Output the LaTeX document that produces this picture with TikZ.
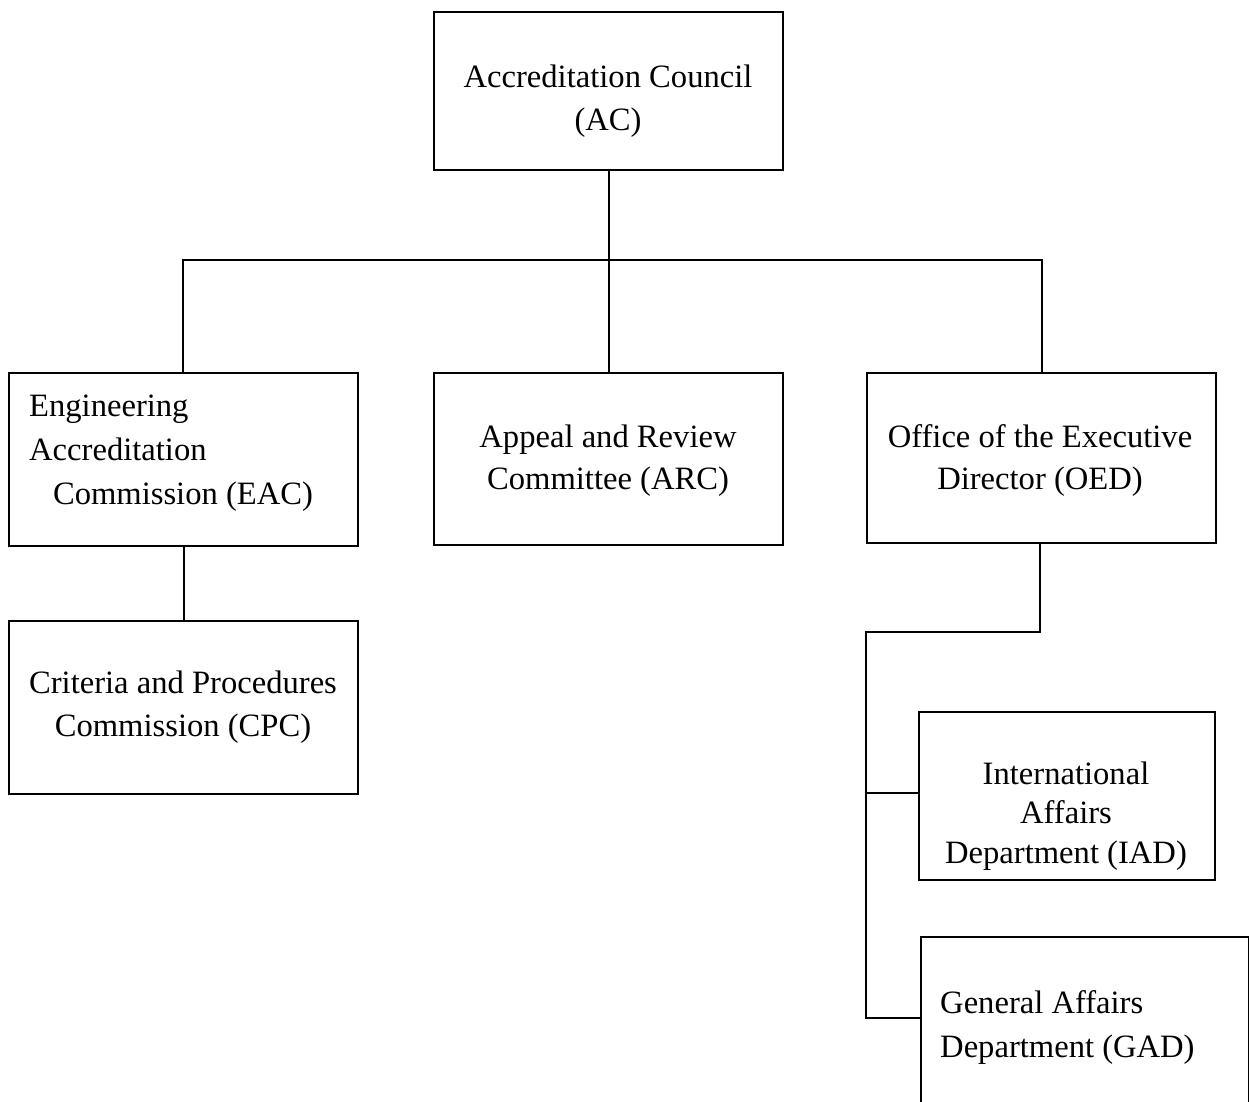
\documentclass[tikz,border=0pt]{standalone}
\usepackage{fontspec}
\setmainfont{Liberation Serif}
\begin{document}
\begin{tikzpicture}[x=1pt,y=-1pt,
  box/.style={draw=black,line width=2pt,rectangle,inner sep=0pt,anchor=north west},
  txt/.style={inner sep=0pt,anchor=base,font=\fontsize{32.6}{43}\selectfont},
  txtl/.style={txt,anchor=base west},
  conn/.style={draw=black,line width=2pt}]
\useasboundingbox (0,0) rectangle (1249,1101);
\clip (0,0) rectangle (1249,1101);
% boxes
\node[box,minimum width=349pt,minimum height=158pt] (AC) at (433,11) {};
\node[box,minimum width=349pt,minimum height=173pt] (EAC) at (8,372) {};
\node[box,minimum width=349pt,minimum height=172pt] (ARC) at (433,372) {};
\node[box,minimum width=349pt,minimum height=170pt] (OED) at (866,372) {};
\node[box,minimum width=349pt,minimum height=173pt] (CPC) at (8,620) {};
\node[box,minimum width=296pt,minimum height=168pt] (IAD) at (918,711) {};
\node[box,minimum width=328pt,minimum height=200pt] (GAD) at (920,936) {};
% texts
\node[txt] (ac1) at (608,87) {Accreditation Council};
\node[txt] (ac2) at (608,130) {(AC)};
\node[txtl] (eac1) at (29,416) {Engineering};
\node[txtl] (eac2) at (29,460) {Accreditation};
\node[txt] (eac3) at (183,504) {Commission (EAC)};
\node[txt] (arc1) at (608,447) {Appeal and Review};
\node[txt] (arc2) at (608,489) {Committee (ARC)};
\node[txt] (oed1) at (1040,447) {Office of the Executive};
\node[txt] (oed2) at (1040,489) {Director (OED)};
\node[txt] (cpc1) at (183,693) {Criteria and Procedures};
\node[txt] (cpc2) at (183,736) {Commission (CPC)};
\node[txt] (iad1) at (1066,784) {International};
\node[txt] (iad2) at (1066,823) {Affairs};
\node[txt] (iad3) at (1066,863) {Department (IAD)};
\node[txtl] (gad1) at (940,1013) {General Affairs};
\node[txtl] (gad2) at (940,1057) {Department (GAD)};
% connector points
\coordinate (bus) at (609,260);
\coordinate (oedj) at (866,632);
% connectors
\draw[conn] (AC.south -| bus) -- (bus);
\draw[conn] (EAC.north -| 183,0) |- (bus) -| (OED.north -| 1042,0);
\draw[conn] (bus) -- (ARC.north -| bus);
\draw[conn] (EAC.south -| 184,0) -- (CPC.north -| 184,0);
\draw[conn] (OED.south -| 1040,0) |- (oedj) |- (GAD.west |- 0,1018);
\draw[conn] (oedj |- 0,793) -- (IAD.west |- 0,793);
\end{tikzpicture}
\end{document}
